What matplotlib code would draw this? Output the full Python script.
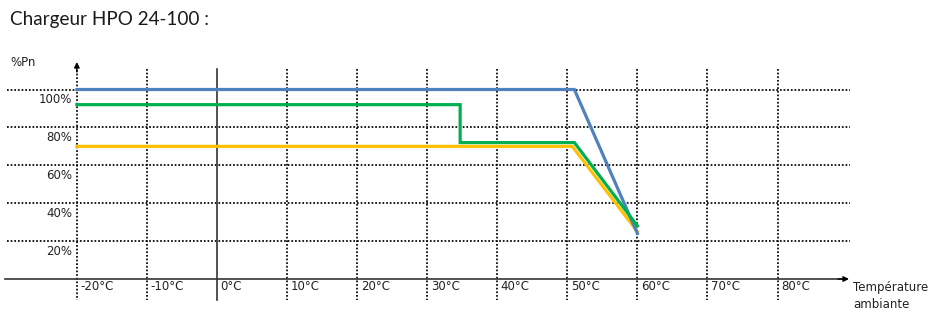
import matplotlib
matplotlib.use("Agg")
import matplotlib.pyplot as plt

# ---- data ----
title = "Chargeur HPO 24-100 :"
x_ticks = [-20, -10, 0, 10, 20, 30, 40, 50, 60, 70, 80]
x_tick_labels = ["-20°C", "-10°C", "0°C", "10°C", "20°C", "30°C", "40°C", "50°C", "60°C", "70°C", "80°C"]
y_ticks = [20, 40, 60, 80, 100]
y_tick_labels = ["20%", "40%", "60%", "80%", "100%"]

blue_x = [-20, 51, 60]
blue_y = [100, 100, 24]
green_x = [-20, 34.7, 34.7, 51, 60]
green_y = [92, 92, 72, 72, 28]
yellow_x = [-20, 50.7, 60]
yellow_y = [70, 70, 25]

# ---- figure ----
W, H, DPI = 941, 318, 100
fig = plt.figure(figsize=(W / DPI, H / DPI), dpi=DPI)
ax = fig.add_axes([0, 0, 1, 1])
px_per_x = 7.007
x0_px = 217
px_per_y = 1.895
y0_px = 279
ax.set_xlim((0 - x0_px) / px_per_x, (W - x0_px) / px_per_x)
ax.set_ylim((y0_px - H) / px_per_y, y0_px / px_per_y)
ax.axis("off")

def dx(p):
    return (p - x0_px) / px_per_x

def dy(p):
    return (y0_px - p) / px_per_y

dot = dict(color="black", lw=1.25, ls=(0, (1, 1.1)), zorder=1)

# horizontal dotted gridlines
for v in y_ticks:
    ax.plot([dx(7), dx(850)], [v, v], **dot)

# vertical dotted gridlines
for t in x_ticks:
    if t == 0:
        ax.plot([t, t], [dy(69), dy(300)], color="#333333", lw=1.2, zorder=1)
    elif t == -20:
        ax.plot([t, t], [dy(70), dy(300)], **dot)
    else:
        ax.plot([t, t], [dy(69), dy(300)], **dot)

# x axis with arrow
ax.plot([dx(5), dx(842)], [0, 0], color="#333333", lw=1.2, zorder=1)
ax.annotate("", xy=(dx(849), 0), xytext=(dx(838), 0),
            arrowprops=dict(arrowstyle="-|>", color="black", lw=1.0,
                            mutation_scale=8, shrinkA=0, shrinkB=0))
# y axis arrow
ax.annotate("", xy=(-20, dy(62)), xytext=(-20, dy(72)),
            arrowprops=dict(arrowstyle="-|>", color="black", lw=1.0,
                            mutation_scale=8, shrinkA=0, shrinkB=0))

# curves
ax.plot(yellow_x, yellow_y, color="#FFC000", lw=2.3, zorder=3, solid_joinstyle="miter")
ax.plot(blue_x, blue_y, color="#4F81BD", lw=2.3, zorder=4, solid_joinstyle="miter")
ax.plot(green_x, green_y, color="#00B050", lw=2.3, zorder=5, solid_joinstyle="miter")

tick_font = dict(family="DejaVu Sans", size=8.5, color="#222222")

# y tick labels (just below gridlines, right aligned)
for v, lab in zip(y_ticks, y_tick_labels):
    ax.text(dx(72), v - 5.3, lab, ha="right", va="center", **tick_font)

# x tick labels
for t, lab in zip(x_ticks, x_tick_labels):
    ax.text(t + 0.5, dy(287), lab, ha="left", va="center", **tick_font)

ax.text(dx(10), dy(62), "%Pn", ha="left", va="center", **tick_font)
ax.text(dx(853), dy(287), "Température", ha="left", va="center", **tick_font)
ax.text(dx(853), dy(305), "ambiante", ha="left", va="center", **tick_font)

ax.text(dx(10), dy(20), title, ha="left", va="center",
        family="Lato", size=13.6, color="#1a1a1a")

fig.savefig("out.png", dpi=DPI)
